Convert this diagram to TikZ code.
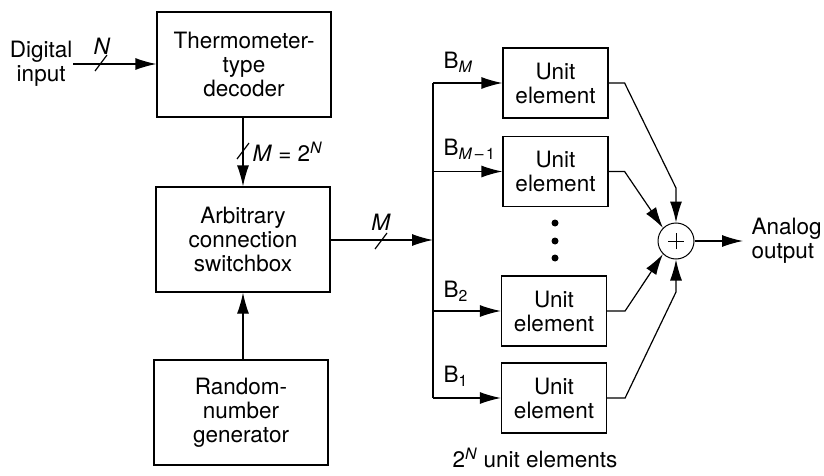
\documentclass[tikz,border=0pt]{standalone}
\usepackage{fontspec}
\setmainfont{TeX Gyre Heros}
\usetikzlibrary{arrows.meta,positioning}
\begin{document}
\begin{tikzpicture}[x=1pt,y=-1pt,
  font=\fontsize{22.5}{24}\selectfont,
  every path/.style={line width=1.2pt},
  blockbox/.style={draw, rectangle, minimum width=174pt, minimum height=105pt, align=center, inner sep=0pt},
  unitbox/.style={draw, rectangle, minimum width=105pt, minimum height=70pt, align=center, inner sep=0pt},
  arr/.style={-{Latex[length=21pt,width=12pt]}},
  lbl/.style={inner sep=0pt, align=center}
]
\useasboundingbox (0,0) rectangle (824,476);

% left blocks
\node[blockbox] (dec) at (244,64.5) {Thermometer-\\type\\decoder};
\node[blockbox] (sw) at (243,239.5) {Arbitrary\\connection\\switchbox};
\node[blockbox] (rng) at (241,412.5) {Random-\\number\\generator};

% input
\node[lbl, anchor=east] (din) at (73,64) {Digital\\input};
\coordinate (inS) at (73,64);
\draw[arr] (inS) -- (dec.west |- inS);
\coordinate (sl1) at (101,63);
\draw ([shift={(-6,8)}]sl1) -- ([shift={(6,-8)}]sl1);
\node[lbl] (nlab) at (102,46) {\textit{N}};

% decoder to switchbox
\draw[arr] (dec.south -| sw.north) -- (sw.north);
\coordinate (sl2) at (243,151);
\draw ([shift={(-6,8)}]sl2) -- ([shift={(6,-8)}]sl2);
\node[lbl, anchor=west] (mlab) at (252,152) {\textit{M} = 2\textsuperscript{\textit{N}}};

% rng to switchbox
\draw[arr] (rng.north -| sw.south) -- (sw.south);

% unit elements
\node[unitbox] (ue1) at (555.5,83) {Unit\\element};
\node[unitbox] (ue2) at (555.5,171.5) {Unit\\element};
\node[unitbox] (ue3) at (554,311) {Unit\\element};
\node[unitbox] (ue4) at (554,398) {Unit\\element};

% bus
\coordinate (busT) at (433,83);
\coordinate (busB) at (433,398);
\coordinate (busM) at (433,240);
\draw (busT) -- (busB);
\draw[arr] (sw.east |- busM) -- (busM);
\coordinate (sl3) at (381,241);
\draw ([shift={(-6,8)}]sl3) -- ([shift={(6,-8)}]sl3);
\node[lbl] (mlab2) at (381,222) {\textit{M}};

\draw[arr] (busT) -- (ue1.west);
\draw[arr] (busT |- ue2.west) -- (ue2.west);
\draw[arr] (busT |- ue3.west) -- (ue3.west);
\draw[arr] (busT |- ue4.west) -- (ue4.west);

\node[lbl, anchor=west] (bm) at (443,62) {B\textsubscript{\textit{M}}};
\node[lbl, anchor=west] (bm1) at (443,149) {B\textsubscript{\textit{M}\,\textendash\,1}};
\node[lbl, anchor=west] (b2) at (443,291) {B\textsubscript{2}};
\node[lbl, anchor=west] (b1) at (443,376) {B\textsubscript{1}};

% dots
\fill (555,223) circle (3.5);
\fill (555,241) circle (3.5);
\fill (555,258) circle (3.5);

% summing junction
\node[draw, circle, minimum size=36pt, inner sep=0pt, line width=1pt] (sum) at (676,241) {};
\draw[line width=1pt] ([xshift=-8pt]sum.center) -- ([xshift=8pt]sum.center);
\draw[line width=1pt] ([yshift=-8pt]sum.center) -- ([yshift=8pt]sum.center);

\draw[arr] (ue1.east) -- ++(16,0) -- (676,188) -- (sum.north);
\draw[arr] (ue2.east) -- ++(16,0) -- (sum.north west);
\draw[arr] (ue3.east) -- ++(18,0) -- (sum.south west);
\draw[arr] (ue4.east) -- ++(18,0) -- (676,292) -- (sum.south);

% output
\coordinate (outE) at (743,241);
\draw[arr] (sum.east) -- (outE);
\node[lbl, anchor=west, align=left] (aout) at (751,241) {Analog\\output};

% caption
\node[lbl] (cap) at (535,458) {2\textsuperscript{\textit{N}} unit elements};
\end{tikzpicture}
\end{document}
